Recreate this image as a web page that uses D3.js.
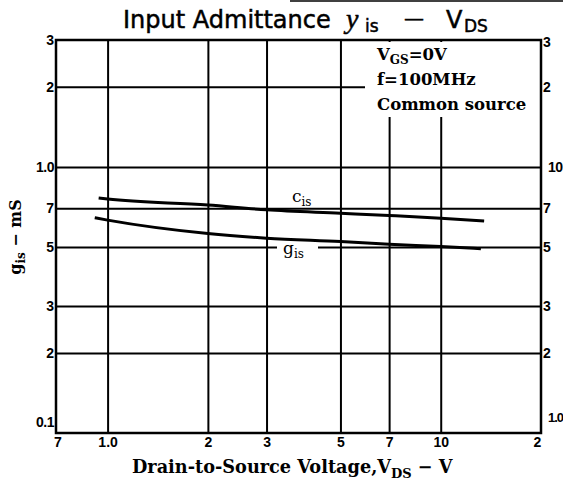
<!DOCTYPE html>
<html>
<head>
<meta charset="utf-8">
<script src="https://cdn.jsdelivr.net/npm/d3@7"></script>
<style>
  body { margin: 0; background: #fff; }
  svg { display: block; }
</style>
</head>
<body>
<div id="main"></div>
<script>
const WIDTH = 563, HEIGHT = 484;

const vdsC = [0.94, 1.0, 2, 3, 5, 7, 10, 13.5];
const cIs = [7.64, 7.57, 7.19, 6.90, 6.70, 6.57, 6.42, 6.26];   // pF, right axis
const vdsG = [0.915, 1.0, 2, 3, 5, 7, 10, 13.2];
const gIs = [0.644, 0.631, 0.562, 0.540, 0.524, 0.512, 0.502, 0.493]; // mS, left axis

const xTicks = [0.7, 1, 2, 3, 5, 7, 10, 20];
const xLabels = ["7", "1.0", "2", "3", "5", "7", "10", "2"];
const yLeftTicks = [0.1, 0.2, 0.3, 0.5, 0.7, 1, 2, 3];
const yLeftLabels = ["0.1", "2", "3", "5", "7", "1.0", "2", "3"];
const yRightTicks = [1, 2, 3, 5, 7, 10, 20, 30];
const yRightLabels = ["1.0", "2", "3", "5", "7", "10", "2", "3"];
const xGrid = [1, 2, 3, 5, 7, 10];
const yGrid = [0.2, 0.3, 0.5, 0.7, 1, 2];

const pLeft = 56, pRight = 541, pTop = 40, pBottom = 433;

const svg = d3.select("#main").append("svg")
    .attr("width", WIDTH)
    .attr("height", HEIGHT);

const x = d3.scaleLog().domain([0.7, 20]).range([pLeft, pRight]);
const yL = d3.scaleLog().domain([0.1, 3]).range([pBottom, pTop]);
const yR = d3.scaleLog().domain([1, 30]).range([pBottom, pTop]);

// scan artifact line at very top
svg.append("line")
    .attr("x1", 290).attr("x2", WIDTH).attr("y1", 1).attr("y2", 1)
    .attr("stroke", "#000").attr("stroke-width", 1.5);

// grid
const gridG = svg.append("g").attr("class", "grid");
gridG.append("g")
    .attr("transform", `translate(0,${pBottom})`)
    .call(d3.axisBottom(x).tickValues(xGrid).tickSize(-(pBottom - pTop)).tickFormat(""))
    .call(g => g.select(".domain").remove());
gridG.append("g")
    .attr("transform", `translate(${pLeft},0)`)
    .call(d3.axisLeft(yL).tickValues(yGrid).tickSize(-(pRight - pLeft)).tickFormat(""))
    .call(g => g.select(".domain").remove());
gridG.selectAll("line").attr("stroke", "#000").attr("stroke-width", 2);

// white panel behind the conditions text
svg.append("rect")
    .attr("x", 365).attr("y", pTop + 2)
    .attr("width", pRight - 365 - 1).attr("height", 75)
    .attr("fill", "#fff");

// frame
svg.append("rect")
    .attr("x", pLeft).attr("y", pTop)
    .attr("width", pRight - pLeft).attr("height", pBottom - pTop)
    .attr("fill", "none").attr("stroke", "#000").attr("stroke-width", 2.5);

// curves
const lineC = d3.line()
    .x((d, i) => x(vdsC[i]))
    .y(d => yR(d))
    .curve(d3.curveMonotoneX);
const lineG = d3.line()
    .x((d, i) => x(vdsG[i]))
    .y(d => yL(d))
    .curve(d3.curveMonotoneX);

svg.append("path").attr("d", lineC(cIs))
    .attr("fill", "none").attr("stroke", "#000").attr("stroke-width", 3);
svg.append("path").attr("d", lineG(gIs))
    .attr("fill", "none").attr("stroke", "#000").attr("stroke-width", 3);

// axes labels
const tickFont = "'Liberation Sans', Arial, sans-serif";

const axL = svg.append("g")
    .attr("transform", `translate(${pLeft},0)`)
    .call(d3.axisLeft(yL).tickValues(yLeftTicks).tickSize(0).tickPadding(2)
        .tickFormat((d, i) => yLeftLabels[i]));
const axR = svg.append("g")
    .attr("transform", `translate(${pRight},0)`)
    .call(d3.axisRight(yR).tickValues(yRightTicks).tickSize(0).tickPadding(2)
        .tickFormat((d, i) => yRightLabels[i]));
const axB = svg.append("g")
    .attr("transform", `translate(0,${pBottom})`)
    .call(d3.axisBottom(x).tickValues(xTicks).tickSize(0).tickPadding(4)
        .tickFormat((d, i) => xLabels[i]));

[axL, axR, axB].forEach(a => {
    a.select(".domain").remove();
    a.selectAll("text")
        .attr("fill", "#000")
        .style("font-family", tickFont)
        .style("font-weight", "bold")
        .style("font-size", "14px");
});
// corner labels sit a little off the corner
axL.selectAll("text").filter((d, i) => i === 0).attr("dy", "-0.45em").attr("letter-spacing", -0.5);
axL.selectAll("text").filter((d, i) => i === 5).attr("letter-spacing", -0.5);
axR.selectAll("text").filter((d, i) => i === 0).attr("x", 7).attr("dy", "-0.9em")
    .attr("letter-spacing", -1).style("font-size", "13px");
axR.selectAll("text").filter((d, i) => i === 5).attr("x", 7).attr("letter-spacing", -0.5);
axR.selectAll("text").filter((d, i) => i === 7).attr("dy", "0.45em");
axB.selectAll("text").filter((d, i) => i === 0).attr("dx", "0.1em");
axB.selectAll("text").filter((d, i) => i === 7).attr("dx", "-0.3em");

const serif = "'DejaVu Serif', 'Liberation Serif', serif";
const sans = "'DejaVu Sans', sans-serif";

// title, pieces placed along the baseline
const titleG = svg.append("g")
    .style("font-family", sans)
    .attr("fill", "#000").attr("stroke", "#000").attr("stroke-width", 0.5);
titleG.append("text").attr("x", 123).attr("y", 28)
    .style("font-size", "24px").text("Input Admittance");
titleG.append("text").attr("x", 346).attr("y", 28)
    .style("font-family", "'Liberation Serif', serif")
    .style("font-style", "italic")
    .style("font-size", "28px").text("y");
titleG.append("text").attr("x", 365).attr("y", 32)
    .style("font-size", "17px").text("is");
titleG.append("text").attr("x", 404).attr("y", 25)
    .style("font-size", "20px").text("\u2014");
titleG.append("text").attr("x", 446).attr("y", 28)
    .style("font-size", "24px").text("V");
titleG.append("text").attr("x", 464).attr("y", 32)
    .style("font-size", "17px").text("DS");

// conditions
const cond = svg.append("g")
    .style("font-family", serif)
    .style("font-weight", "bold")
    .style("font-size", "16.5px");
const t1 = cond.append("text").attr("x", 377).attr("y", 60);
t1.append("tspan").text("V");
t1.append("tspan").text("GS").attr("dy", 4).style("font-size", "12px");
t1.append("tspan").text("=0V").attr("dy", -4);
cond.append("text").attr("x", 377).attr("y", 85).text("f=100MHz");
cond.append("text").attr("x", 377).attr("y", 110).text("Common source");

// curve labels
svg.append("rect").attr("x", 277).attr("y", 244).attr("width", 41).attr("height", 14).attr("fill", "#fff");
const lc = svg.append("text").attr("x", 292).attr("y", 202)
    .style("font-family", serif).style("font-size", "17px");
lc.append("tspan").text("c");
lc.append("tspan").text("is").attr("dy", 4).style("font-size", "12px");
const lg = svg.append("text").attr("x", 283).attr("y", 254)
    .style("font-family", serif).style("font-size", "17px");
lg.append("tspan").text("g");
lg.append("tspan").text("is").attr("dy", 4).style("font-size", "12px");

// x axis title
const xt = svg.append("text").attr("x", 132).attr("y", 473)
    .style("font-family", serif).style("font-weight", "bold").style("font-size", "17.7px");
xt.append("tspan").text("Drain-to-Source Voltage,V");
xt.append("tspan").text("DS").attr("dy", 5).style("font-size", "13px");
xt.append("tspan").text(" \u2212 V").attr("dy", -5);

// y axis title
const yt = svg.append("text")
    .attr("transform", "translate(21,237) rotate(-90)")
    .attr("text-anchor", "middle")
    .style("font-family", serif).style("font-weight", "bold").style("font-size", "16px");
yt.append("tspan").text("g");
yt.append("tspan").text("is").attr("dy", 4).style("font-size", "12px");
yt.append("tspan").text(" \u2212 mS").attr("dy", -4);
</script>
</body>
</html>
